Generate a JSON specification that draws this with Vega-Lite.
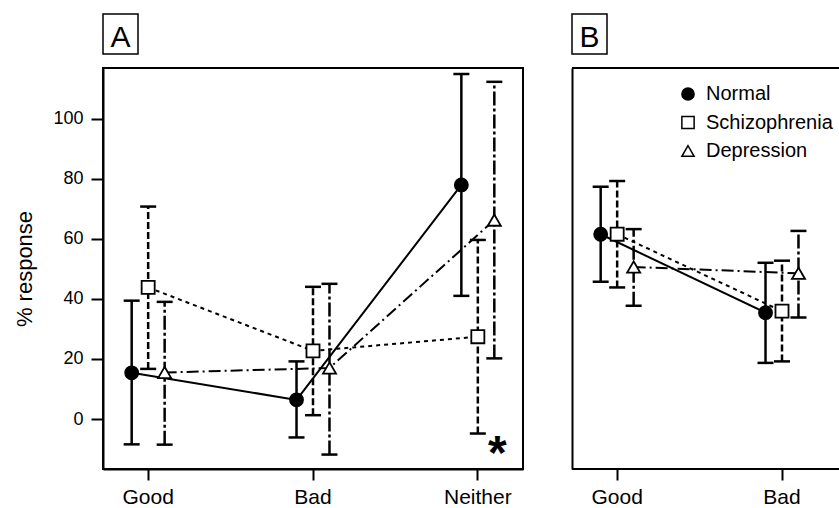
{
 "$schema": "https://vega.github.io/schema/vega-lite/v6.json",
 "autosize": {"type": "pad"},
 "padding": {"left": 12, "top": 13, "right": 0, "bottom": 0},
 "background": "white",
 "config": {
   "font": "Liberation Sans",
   "view": {"stroke": null},
   "axis": {"domainColor": "black", "domainWidth": 2, "tickColor": "black", "tickWidth": 2, "labelColor": "black", "titleColor": "black", "grid": false, "labelFont": "Liberation Sans", "titleFont": "Liberation Sans", "titleFontWeight": "normal"},
   "axisX": {"labelFontSize": 21, "labelPadding": 6, "tickSize": 11, "labelAngle": 0},
   "axisY": {"labelFontSize": 18, "labelPadding": 8, "tickSize": 12, "titleFontSize": 22, "titlePadding": 16}
 },
 "datasets": {
   "d": [
     {"panel": "A", "cond": "Good", "group": "Normal", "mean": 15.4, "lo": -8.4, "hi": 39.4},
     {"panel": "A", "cond": "Bad", "group": "Normal", "mean": 6.4, "lo": -6.1, "hi": 19.2},
     {"panel": "A", "cond": "Neither", "group": "Normal", "mean": 77.9, "lo": 41.0, "hi": 114.8},
     {"panel": "A", "cond": "Good", "group": "Schizophrenia", "mean": 43.8, "lo": 16.7, "hi": 70.7},
     {"panel": "A", "cond": "Bad", "group": "Schizophrenia", "mean": 22.7, "lo": 1.3, "hi": 44.0},
     {"panel": "A", "cond": "Neither", "group": "Schizophrenia", "mean": 27.4, "lo": -4.8, "hi": 59.6},
     {"panel": "A", "cond": "Good", "group": "Depression", "mean": 15.5, "lo": -8.5, "hi": 39.0},
     {"panel": "A", "cond": "Bad", "group": "Depression", "mean": 17.0, "lo": -11.8, "hi": 45.0},
     {"panel": "A", "cond": "Neither", "group": "Depression", "mean": 66.2, "lo": 20.2, "hi": 112.2},
     {"panel": "B", "cond": "Good", "group": "Normal", "mean": 61.5, "lo": 45.7, "hi": 77.3},
     {"panel": "B", "cond": "Bad", "group": "Normal", "mean": 35.4, "lo": 18.7, "hi": 52.0},
     {"panel": "B", "cond": "Good", "group": "Schizophrenia", "mean": 61.5, "lo": 43.8, "hi": 79.2},
     {"panel": "B", "cond": "Bad", "group": "Schizophrenia", "mean": 35.9, "lo": 19.2, "hi": 52.7},
     {"panel": "B", "cond": "Good", "group": "Depression", "mean": 50.6, "lo": 37.7, "hi": 63.2},
     {"panel": "B", "cond": "Bad", "group": "Depression", "mean": 48.5, "lo": 33.8, "hi": 62.6}
   ]
 },
 "spacing": 47,
 "bounds": "full",
 "resolve": {
   "scale": {"x": "independent", "y": "independent", "xOffset": "independent", "shape": "independent", "fill": "independent"},
   "legend": {"shape": "independent", "fill": "independent"}
 },
 "hconcat": [
   {
     "spacing": 14,
     "bounds": "flush",
     "vconcat": [
       {
         "width": 35, "height": 40,
         "view": {"stroke": "black", "strokeWidth": 1.5, "fill": "white"},
         "data": {"values": [{"label": "A"}]},
         "mark": {"type": "text", "fontSize": 30, "font": "Liberation Sans", "color": "black", "baseline": "middle", "align": "center", "dy": 4},
         "encoding": {"text": {"field": "label"}}
       },
       {
         "width": 420, "height": 401,
         "view": {"stroke": "black", "strokeWidth": 2},
         "layer": [
           {
             "data": {"name": "d"},
             "transform": [{"filter": "datum.panel == 'A'"}],
             "encoding": {
               "x": {"field": "cond", "type": "nominal", "sort": null, "scale": {"domain": ["Good", "Bad", "Neither"], "paddingInner": 0.7, "paddingOuter": 0.124}, "axis": {"title": null}},
               "xOffset": {"field": "group", "type": "nominal", "scale": {"domain": ["Normal", "Schizophrenia", "Depression"], "paddingInner": 0, "paddingOuter": 0}},
               "y": {"field": "mean", "type": "quantitative", "scale": {"domain": [-16.6, 116.8], "nice": false, "zero": false}, "axis": {"title": "% response", "values": [0, 20, 40, 60, 80, 100]}}
             },
             "layer": [
               {
                 "encoding": {
                   "y": {"field": "lo", "type": "quantitative", "scale": {"domain": [-16.6, 116.8], "nice": false, "zero": false}, "axis": {"title": "% response", "values": [0, 20, 40, 60, 80, 100]}},
                   "y2": {"field": "hi"}
                 },
                 "layer": [
                   {"transform": [{"filter": "datum.group == 'Normal'"}], "mark": {"type": "rule", "color": "black", "strokeWidth": 2.5}},
                   {"transform": [{"filter": "datum.group == 'Schizophrenia'"}], "mark": {"type": "rule", "color": "black", "strokeWidth": 2.5, "strokeDash": [7, 3]}},
                   {"transform": [{"filter": "datum.group == 'Depression'"}], "mark": {"type": "rule", "color": "black", "strokeWidth": 2.5, "strokeDash": [14, 3, 3, 3]}}
                 ]
               },
               {
                 "mark": {"type": "tick", "color": "black", "thickness": 2.5, "size": 16, "orient": "horizontal", "opacity": 1},
                 "encoding": {"y": {"field": "lo", "type": "quantitative", "scale": {"domain": [-16.6, 116.8], "nice": false, "zero": false}, "axis": {"title": "% response", "values": [0, 20, 40, 60, 80, 100]}}}
               },
               {
                 "mark": {"type": "tick", "color": "black", "thickness": 2.5, "size": 16, "orient": "horizontal", "opacity": 1},
                 "encoding": {"y": {"field": "hi", "type": "quantitative", "scale": {"domain": [-16.6, 116.8], "nice": false, "zero": false}, "axis": {"title": "% response", "values": [0, 20, 40, 60, 80, 100]}}}
               },
               {"transform": [{"filter": "datum.group == 'Normal'"}], "mark": {"type": "line", "color": "black", "strokeWidth": 2}, "encoding": {"order": {"value": null}}},
               {"transform": [{"filter": "datum.group == 'Schizophrenia'"}], "mark": {"type": "line", "color": "black", "strokeWidth": 2, "strokeDash": [4, 4]}, "encoding": {"order": {"value": null}}},
               {"transform": [{"filter": "datum.group == 'Depression'"}], "mark": {"type": "line", "color": "black", "strokeWidth": 2, "strokeDash": [12, 4, 2, 4]}, "encoding": {"order": {"value": null}}},
               {
                 "mark": {"type": "point", "stroke": "black", "strokeWidth": 1.8, "size": 170, "opacity": 1, "fillOpacity": 1},
                 "encoding": {
                   "shape": {"field": "group", "type": "nominal", "scale": {"domain": ["Normal", "Schizophrenia", "Depression"], "range": ["circle", "square", "triangle-up"]}, "legend": null},
                   "fill": {"field": "group", "type": "nominal", "scale": {"domain": ["Normal", "Schizophrenia", "Depression"], "range": ["black", "white", "white"]}, "legend": null}
                 }
               }
             ]
           },
           {
             "data": {"values": [{"mark": "*"}]},
             "mark": {"type": "text", "fontSize": 48, "fontWeight": "bold", "baseline": "middle", "align": "center", "dy": 8, "dx": 3, "color": "black"},
             "encoding": {
               "text": {"field": "mark"},
               "x": {"datum": "Neither", "type": "nominal", "axis": {"title": null}},
               "xOffset": {"datum": "Depression", "type": "nominal"},
               "y": {"datum": -9.2, "type": "quantitative", "scale": {"domain": [-16.6, 116.8], "nice": false, "zero": false}, "axis": {"title": "% response", "values": [0, 20, 40, 60, 80, 100]}}
             }
           }
         ]
       }
     ]
   },
   {
     "spacing": 14,
     "bounds": "flush",
     "vconcat": [
       {
         "width": 35, "height": 40,
         "view": {"stroke": "black", "strokeWidth": 1.5, "fill": "white"},
         "data": {"values": [{"label": "B"}]},
         "mark": {"type": "text", "fontSize": 30, "font": "Liberation Sans", "color": "black", "baseline": "middle", "align": "center", "dy": 4},
         "encoding": {"text": {"field": "label"}}
       },
       {
         "width": 267, "height": 401,
         "layer": [
           {
             "data": {"values": [{"edge": "top", "v": 116.8}, {"edge": "bottom", "v": -16.6}]},
             "mark": {"type": "rule", "color": "black", "strokeWidth": 2},
             "encoding": {"y": {"field": "v", "type": "quantitative", "scale": {"domain": [-16.6, 116.8], "nice": false, "zero": false}, "axis": {"title": null, "labels": false, "ticks": false}}}
           },
           {
             "data": {"name": "d"},
             "transform": [{"filter": "datum.panel == 'B'"}],
             "encoding": {
               "x": {"field": "cond", "type": "nominal", "sort": null, "scale": {"domain": ["Good", "Bad", "Neither"], "range": [0, 420], "paddingInner": 0.7, "paddingOuter": 0.124}, "axis": {"title": null, "values": ["Good", "Bad"], "domain": false}},
               "xOffset": {"field": "group", "type": "nominal", "scale": {"domain": ["Normal", "Schizophrenia", "Depression"], "paddingInner": 0, "paddingOuter": 0}},
               "y": {"field": "mean", "type": "quantitative", "scale": {"domain": [-16.6, 116.8], "nice": false, "zero": false}, "axis": {"title": null, "labels": false, "ticks": false}}
             },
             "layer": [
               {
                 "encoding": {
                   "y": {"field": "lo", "type": "quantitative", "scale": {"domain": [-16.6, 116.8], "nice": false, "zero": false}, "axis": {"title": null, "labels": false, "ticks": false}},
                   "y2": {"field": "hi"}
                 },
                 "layer": [
                   {"transform": [{"filter": "datum.group == 'Normal'"}], "mark": {"type": "rule", "color": "black", "strokeWidth": 2.5}},
                   {"transform": [{"filter": "datum.group == 'Schizophrenia'"}], "mark": {"type": "rule", "color": "black", "strokeWidth": 2.5, "strokeDash": [7, 3]}},
                   {"transform": [{"filter": "datum.group == 'Depression'"}], "mark": {"type": "rule", "color": "black", "strokeWidth": 2.5, "strokeDash": [14, 3, 3, 3]}}
                 ]
               },
               {
                 "mark": {"type": "tick", "color": "black", "thickness": 2.5, "size": 16, "orient": "horizontal", "opacity": 1},
                 "encoding": {"y": {"field": "lo", "type": "quantitative", "scale": {"domain": [-16.6, 116.8], "nice": false, "zero": false}, "axis": {"title": null, "labels": false, "ticks": false}}}
               },
               {
                 "mark": {"type": "tick", "color": "black", "thickness": 2.5, "size": 16, "orient": "horizontal", "opacity": 1},
                 "encoding": {"y": {"field": "hi", "type": "quantitative", "scale": {"domain": [-16.6, 116.8], "nice": false, "zero": false}, "axis": {"title": null, "labels": false, "ticks": false}}}
               },
               {"transform": [{"filter": "datum.group == 'Normal'"}], "mark": {"type": "line", "color": "black", "strokeWidth": 2}, "encoding": {"order": {"value": null}}},
               {"transform": [{"filter": "datum.group == 'Schizophrenia'"}], "mark": {"type": "line", "color": "black", "strokeWidth": 2, "strokeDash": [4, 4]}, "encoding": {"order": {"value": null}}},
               {"transform": [{"filter": "datum.group == 'Depression'"}], "mark": {"type": "line", "color": "black", "strokeWidth": 2, "strokeDash": [12, 4, 2, 4]}, "encoding": {"order": {"value": null}}},
               {
                 "mark": {"type": "point", "stroke": "black", "strokeWidth": 1.8, "size": 170, "opacity": 1, "fillOpacity": 1},
                 "encoding": {
                   "shape": {"field": "group", "type": "nominal", "scale": {"domain": ["Normal", "Schizophrenia", "Depression"], "range": ["circle", "square", "triangle-up"]},
                     "legend": {"title": null, "orient": "none", "legendX": 106, "legendY": 70, "padding": 0, "labelFontSize": 20, "labelFont": "Liberation Sans", "labelColor": "black", "symbolSize": 150, "symbolStrokeWidth": 1.5, "rowPadding": 8.5, "labelOffset": 8,
                       "encode": {"symbols": {"stroke": {"value": "black"}, "strokeWidth": {"value": 1.5}, "fill": {"condition": {"test": "datum.value === 'Normal'", "value": "black"}, "value": "white"}}}}},
                   "fill": {"field": "group", "type": "nominal", "scale": {"domain": ["Normal", "Schizophrenia", "Depression"], "range": ["black", "white", "white"]}, "legend": null}
                 }
               }
             ]
           }
         ]
       }
     ]
   }
 ]
}
